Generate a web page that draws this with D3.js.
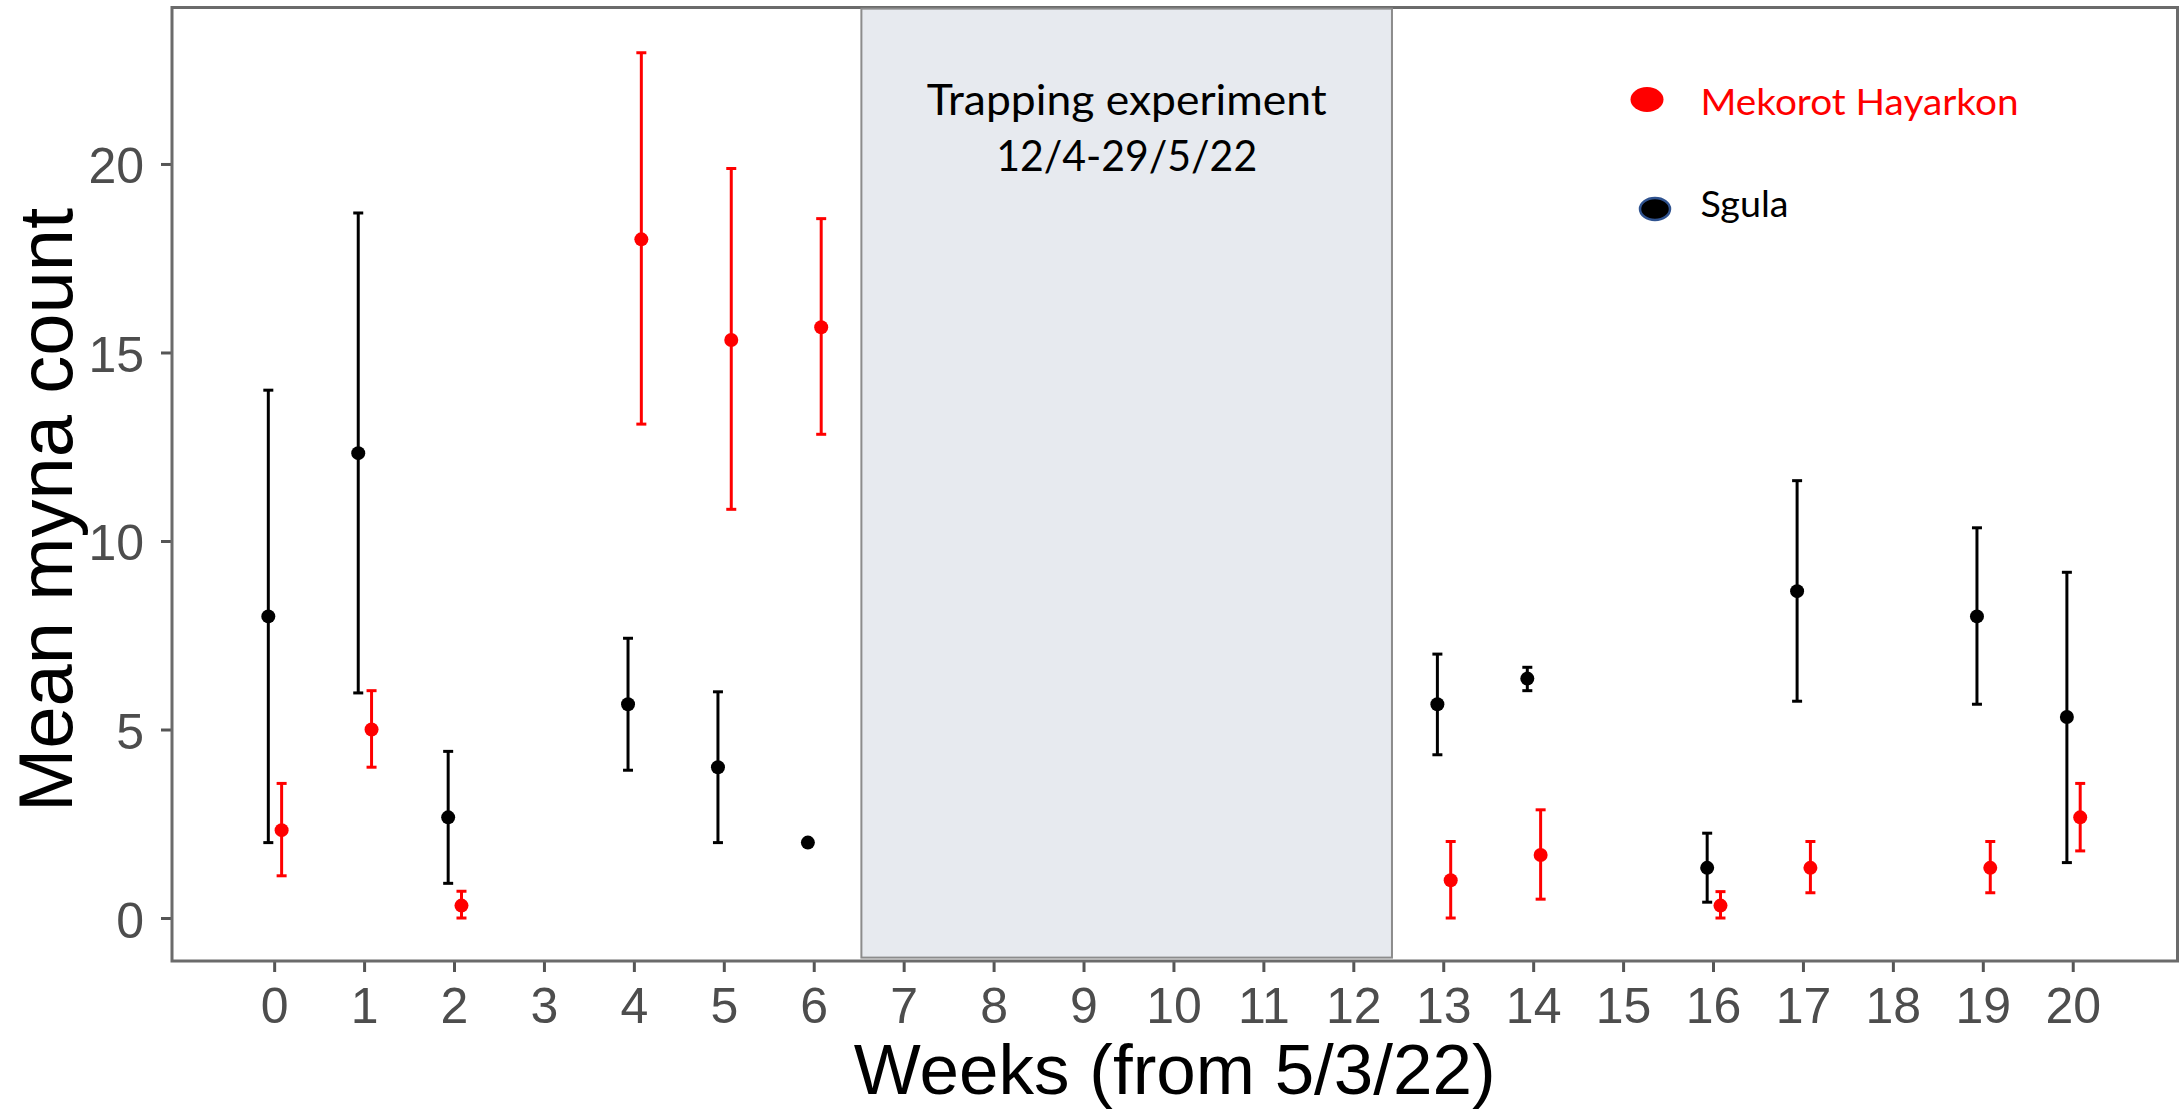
<!DOCTYPE html>
<html>
<head>
<meta charset="utf-8">
<script src="https://cdn.jsdelivr.net/npm/d3@7"></script>
<style>
  html, body { margin: 0; padding: 0; background: #fff; }
  svg { display: block; }
</style>
</head>
<body>
<svg id="chart" width="2179" height="1111"></svg>
<script>
// ---- Data ----
const weeks      = [0, 1, 2, 4, 5, 6, 13, 14, 16, 17, 19, 20];
const sgulaMean  = [8, 12.33, 2.67, 5.67, 4, 2, 5.67, 6.35, 1.33, 8.67, 8, 5.33];
const sgulaLow   = [2, 5.97, 0.92, 3.92, 2, null, 4.33, 6.03, 0.42, 5.75, 5.67, 1.47];
const sgulaHigh  = [14, 18.7, 4.42, 7.42, 6, null, 7, 6.65, 2.25, 11.6, 10.35, 9.17];
const mekMean    = [2.33, 5, 0.33, 18, 15.33, 15.67, 1, 1.67, 0.33, 1.33, 1.33, 2.67];
const mekLow     = [1.12, 4, 0, 13.1, 10.84, 12.83, 0, 0.5, 0, 0.67, 0.67, 1.78];
const mekHigh    = [3.57, 6.03, 0.71, 22.95, 19.88, 18.55, 2.03, 2.87, 0.7, 2.03, 2.03, 3.57];
const xTicks     = d3.range(0, 21);
const yTicks     = [0, 5, 10, 15, 20];
const seriesNames = ["Mekorot Hayarkon", "Sgula"];
const trapStart = 6.53, trapEnd = 12.43;
const trapLabel = ["Trapping experiment", "12/4-29/5/22"];
const xTitle = "Weeks (from 5/3/22)";
const yTitle = "Mean myna count";

// ---- Layout ----
const svg = d3.select("#chart");
const P = { left: 172, right: 2177.5, top: 7.5, bottom: 961 };

const x = d3.scaleLinear().domain([-1.136, 21.165]).range([P.left, P.right]);
const y = d3.scaleLinear().domain([-1.14, 24.15]).range([P.bottom, P.top]);

svg.append("rect").attr("width", 2179).attr("height", 1111).attr("fill", "#fff");

// axes
const xAxis = d3.axisBottom(x).tickValues(xTicks).tickSize(11).tickPadding(0).tickFormat(d3.format("d"));
const yAxis = d3.axisLeft(y).tickValues(yTicks).tickSize(11).tickPadding(0).tickFormat(d3.format("d"));

const gx = svg.append("g").attr("transform", `translate(0,${P.bottom})`).call(xAxis);
gx.select(".domain").remove();
gx.selectAll(".tick line").attr("stroke", "#555").attr("stroke-width", 3);
gx.selectAll(".tick text")
  .attr("font-family", "Liberation Sans, Arial, sans-serif")
  .attr("font-size", 50).attr("fill", "#4d4d4d")
  .attr("y", 62).attr("dy", 0);

const gy = svg.append("g").attr("transform", `translate(${P.left},0)`).call(yAxis);
gy.select(".domain").remove();
gy.selectAll(".tick line").attr("stroke", "#555").attr("stroke-width", 3);
gy.selectAll(".tick text")
  .attr("font-family", "Liberation Sans, Arial, sans-serif")
  .attr("font-size", 50).attr("fill", "#4d4d4d")
  .attr("x", -28).attr("dy", 19);

// panel border
svg.append("rect")
  .attr("x", P.left).attr("y", P.top)
  .attr("width", P.right - P.left).attr("height", P.bottom - P.top)
  .attr("fill", "none").attr("stroke", "#6b6b6b").attr("stroke-width", 3);

// trapping period box
svg.append("rect")
  .attr("x", x(trapStart)).attr("y", y(24.12))
  .attr("width", x(trapEnd) - x(trapStart)).attr("height", y(-1.05) - y(24.12))
  .attr("fill", "#e7eaef").attr("stroke", "#8c8c8c").attr("stroke-width", 2);

const cx = (x(trapStart) + x(trapEnd)) / 2;
const trapLens = [400, 261];
const trapBase = [115, 171];
trapLabel.forEach((t, i) => {
  svg.append("text").text(t)
    .attr("x", cx).attr("y", trapBase[i])
    .attr("text-anchor", "middle")
    .attr("font-family", "Lato, 'Open Sans', sans-serif")
    .attr("font-size", 43).attr("fill", "#000")
    .attr("textLength", trapLens[i]).attr("lengthAdjust", "spacingAndGlyphs");
});

// series
const series = [
  { name: "Sgula", color: "#000", off: -0.065, mean: sgulaMean, low: sgulaLow, high: sgulaHigh },
  { name: "Mekorot Hayarkon", color: "#ff0000", off: 0.083, mean: mekMean, low: mekLow, high: mekHigh }
];

series.forEach(s => {
  const rows = weeks.map((w, i) => ({ w, m: s.mean[i], lo: s.low[i], hi: s.high[i] }));
  const g = svg.append("g");
  const eb = rows.filter(r => r.lo !== null && r.hi !== null);
  g.selectAll("line.bar").data(eb).join("line")
    .attr("x1", r => x(r.w + s.off)).attr("x2", r => x(r.w + s.off))
    .attr("y1", r => y(r.lo)).attr("y2", r => y(r.hi))
    .attr("stroke", s.color).attr("stroke-width", 3);
  ["lo", "hi"].forEach(k => {
    g.selectAll("line.cap" + k).data(eb).join("line")
      .attr("x1", r => x(r.w + s.off) - 5).attr("x2", r => x(r.w + s.off) + 5)
      .attr("y1", r => y(r[k])).attr("y2", r => y(r[k]))
      .attr("stroke", s.color).attr("stroke-width", 3);
  });
  g.selectAll("circle").data(rows).join("circle")
    .attr("cx", r => x(r.w + s.off)).attr("cy", r => y(r.m))
    .attr("r", 7).attr("fill", s.color);
});

// legend (drawn shapes)
svg.append("ellipse").attr("cx", 1647).attr("cy", 99.5).attr("rx", 16.5).attr("ry", 12.5).attr("fill", "#ff0000");
svg.append("text").text(seriesNames[0])
  .attr("x", 1700.5).attr("y", 115)
  .attr("font-family", "Lato, 'Open Sans', sans-serif").attr("font-size", 37).attr("fill", "#ff0000")
  .attr("textLength", 318).attr("lengthAdjust", "spacingAndGlyphs");
svg.append("ellipse").attr("cx", 1655).attr("cy", 209).attr("rx", 15).attr("ry", 11)
  .attr("fill", "#000").attr("stroke", "#2f528f").attr("stroke-width", 2.5);
svg.append("text").text(seriesNames[1])
  .attr("x", 1700.5).attr("y", 216.5)
  .attr("font-family", "Lato, 'Open Sans', sans-serif").attr("font-size", 37).attr("fill", "#000")
  .attr("textLength", 88).attr("lengthAdjust", "spacingAndGlyphs");

// axis titles
svg.append("text").text(xTitle)
  .attr("x", (P.left + P.right) / 2).attr("y", 1094)
  .attr("text-anchor", "middle")
  .attr("font-family", "Liberation Sans, Arial, sans-serif")
  .attr("font-size", 71).attr("fill", "#000");

svg.append("text").text(yTitle)
  .attr("transform", "translate(72,510) rotate(-90)")
  .attr("text-anchor", "middle")
  .attr("font-family", "Liberation Sans, Arial, sans-serif")
  .attr("font-size", 76).attr("fill", "#000");
</script>
</body>
</html>
